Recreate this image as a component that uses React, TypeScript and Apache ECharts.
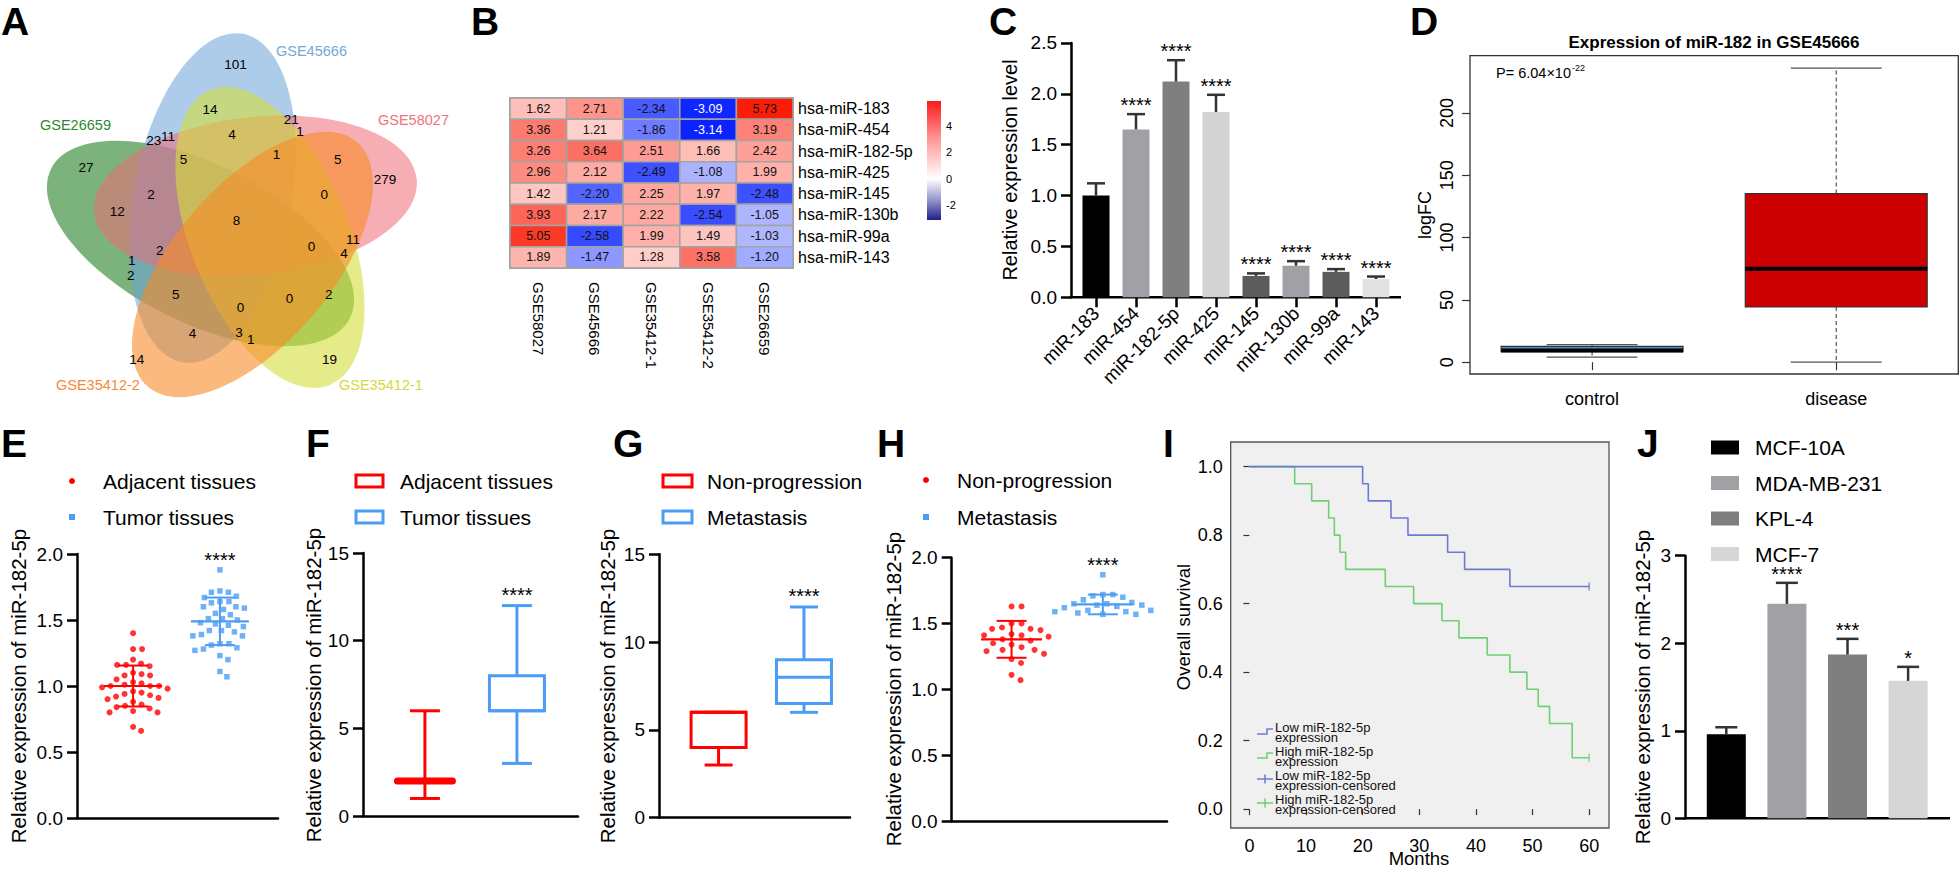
import React, { useEffect, useRef } from "react";
import * as echarts from "echarts";

const FONT = "'Liberation Sans', Arial, Helvetica, sans-serif";
const W = 1960;
const H = 869;

/* ===================== DATA ===================== */
// A – Venn
const vennSets = ["GSE45666", "GSE58027", "GSE35412-1", "GSE35412-2", "GSE26659"];
const vennLabelColors = ["#74a9d8", "#f0737c", "#d3da3a", "#f58a36", "#2c8a2c"];
const vennCounts = [101, 14, 21, 1, 23, 11, 4, 27, 5, 1, 5, 279, 2, 0, 12, 8, 11, 0, 4, 2, 1, 2, 5, 0, 2, 0, 4, 3, 1, 14, 19];

// B – heatmap
const heatCols = ["GSE58027", "GSE45666", "GSE35412-1", "GSE35412-2", "GSE26659"];
const heatRows = ["hsa-miR-183", "hsa-miR-454", "hsa-miR-182-5p", "hsa-miR-425", "hsa-miR-145", "hsa-miR-130b", "hsa-miR-99a", "hsa-miR-143"];
const heatVals = [
  [1.62, 2.71, -2.34, -3.09, 5.73],
  [3.36, 1.21, -1.86, -3.14, 3.19],
  [3.26, 3.64, 2.51, 1.66, 2.42],
  [2.96, 2.12, -2.49, -1.08, 1.99],
  [1.42, -2.2, 2.25, 1.97, -2.48],
  [3.93, 2.17, 2.22, -2.54, -1.05],
  [5.05, -2.58, 1.99, 1.49, -1.03],
  [1.89, -1.47, 1.28, 3.58, -1.2],
];
const heatLegendTicks = [4, 2, 0, -2];

// C – bars
const cCats = ["miR-183", "miR-454", "miR-182-5p", "miR-425", "miR-145", "miR-130b", "miR-99a", "miR-143"];
const cMeans = [1.0, 1.65, 2.12, 1.82, 0.21, 0.31, 0.25, 0.18];
const cErr = [0.12, 0.15, 0.21, 0.17, 0.025, 0.045, 0.027, 0.024];
const cStars = ["", "****", "****", "****", "****", "****", "****", "****"];
const cColors = ["#000000", "#a0a0a6", "#7f7f7f", "#d3d3d3", "#5c5c5c", "#a0a0a6", "#5c5c5c", "#e2e2e2"];

// D – R boxplot
const dGroups = ["control", "disease"];
const dBoxes = [
  [4, 8.5, 9.4, 12.6, 14],
  [0, 44.3, 75, 135.3, 236],
];
const dColors = ["#3f8fd8", "#cc0000"];
const dTicks = [0, 50, 100, 150, 200];

// E – scatter
const eGroups = ["Adjacent tissues", "Tumor tissues"];
const eAdjacent = [1.40, 1.28, 1.28, 1.20, 1.17, 1.16, 1.16, 1.15, 1.10, 1.09, 1.08, 1.08, 1.05, 1.03, 1.02, 1.01, 1.00, 1.00, 1.00, 0.99, 0.98, 0.96, 0.95, 0.94, 0.93, 0.92, 0.91, 0.90, 0.88, 0.86, 0.85, 0.84, 0.83, 0.81, 0.80, 0.80, 0.69, 0.66];
const eTumor = [1.88, 1.72, 1.71, 1.71, 1.68, 1.67, 1.64, 1.64, 1.63, 1.60, 1.60, 1.59, 1.58, 1.55, 1.54, 1.51, 1.51, 1.50, 1.48, 1.47, 1.46, 1.45, 1.42, 1.42, 1.41, 1.39, 1.38, 1.38, 1.32, 1.32, 1.31, 1.29, 1.28, 1.27, 1.23, 1.20, 1.11, 1.07];
const eMean = [1.0, 1.49];
const eSD = [0.155, 0.18];
const eStars = ["", "****"];

// F – box
const fGroups = ["Adjacent tissues", "Tumor tissues"];
const fBoxes = [
  [1, 2, 2, 2, 6],
  [3, 6, 6, 8, 12],
];
const fStars = ["", "****"];

// G – box
const gGroups = ["Non-progression", "Metastasis"];
const gBoxes = [
  [3, 4, 6, 6, 6],
  [6, 6.5, 8, 9, 12],
];
const gStars = ["", "****"];

// H – scatter
const hGroups = ["Non-progression", "Metastasis"];
const hNonProg = [1.63, 1.63, 1.50, 1.50, 1.47, 1.46, 1.46, 1.45, 1.42, 1.41, 1.41, 1.40, 1.38, 1.37, 1.35, 1.34, 1.32, 1.30, 1.30, 1.29, 1.27, 1.23, 1.20, 1.11, 1.07];
const hMetastasis = [1.87, 1.72, 1.72, 1.71, 1.70, 1.68, 1.66, 1.65, 1.65, 1.64, 1.64, 1.63, 1.62, 1.60, 1.60, 1.59, 1.59, 1.58, 1.57, 1.57];
const hMean = [1.38, 1.645];
const hSD = [0.14, 0.075];
const hStars = ["", "****"];

// I – Kaplan-Meier
const kmLowT = [0, 20, 21, 25, 28, 35, 38, 46, 60];
const kmLowS = [1, 0.95, 0.9, 0.85, 0.8, 0.75, 0.7, 0.65, 0.65];
const kmHighT = [0, 8, 11, 14, 15, 16, 17, 24, 29, 34, 37, 42, 46, 49, 51, 53, 57, 60];
const kmHighS = [1, 0.95, 0.9, 0.85, 0.8, 0.75, 0.7, 0.65, 0.6, 0.55, 0.5, 0.45, 0.4, 0.35, 0.3, 0.25, 0.15, 0.15];
const kmLegend = [
  "Low miR-182-5p\nexpression",
  "High miR-182-5p\nexpression",
  "Low miR-182-5p\nexpression-censored",
  "High miR-182-5p\nexpression-censored",
];
const iXTicks = [0, 10, 20, 30, 40, 50, 60];
const iYTicks = [0, 0.2, 0.4, 0.6, 0.8, 1.0];

// J – bars
const jCats = ["MCF-10A", "MDA-MB-231", "KPL-4", "MCF-7"];
const jMeans = [0.96, 2.45, 1.87, 1.57];
const jErr = [0.08, 0.24, 0.18, 0.16];
const jStars = ["", "****", "***", "*"];
const jColors = ["#000000", "#a0a0a5", "#7f7f7f", "#d6d6d6"];

/* ===================== LAYOUT / STYLE ===================== */
const VENN_ELL = [
  { cx: 212.5, cy: 198, a: 167, b: 79, angle: -79.5, fill: "rgba(105,163,216,0.55)" }, // blue
  { cx: 255.5, cy: 196, a: 162, b: 79, angle: -6.0, fill: "rgba(238,105,118,0.55)" }, // pink
  { cx: 270, cy: 237.5, a: 159, b: 79, angle: 67.9, fill: "rgba(214,221,58,0.6)" }, // yellow
  { cx: 252.5, cy: 264.5, a: 161, b: 79, angle: 130.5, fill: "rgba(249,138,38,0.6)" }, // orange
  { cx: 200.5, cy: 243.5, a: 167, b: 79, angle: 26.5, fill: "rgba(36,128,36,0.6)" }, // green
];
const VENN_DRAW_ORDER = [4, 0, 1, 2, 3];
const VENN_LABEL_POS = [[276, 51], [378, 120], [339, 385], [56, 385], [40, 125]];
const VENN_COUNT_POS = [
  [235.5, 64.2], [210.1, 109.8], [291.2, 119.9], [300, 131.8], [153.7, 140.2], [167.9, 136.8], [232.1, 134.1],
  [86.1, 167.9], [183.4, 159.5], [276.4, 154.4], [337.8, 159.5], [385.1, 179.1], [151, 194.9], [324.3, 194.9],
  [117.2, 211.8], [236.5, 220.6], [353, 239.9], [311.5, 246.6], [343.9, 253.4], [159.8, 250.7], [131.8, 260.1],
  [130.7, 275.3], [175.7, 294.6], [289.5, 298.3], [328.7, 294.6], [240.5, 307.4], [192.6, 333.8], [238.9, 332.1],
  [250.7, 339.5], [136.8, 359.8], [329.4, 359.8],
];
const LETTERS: [string, number, number][] = [
  ["A", 1, 21], ["B", 471, 21], ["C", 989, 21], ["D", 1410, 21],
  ["E", 1, 443.5], ["F", 306, 443.5], ["G", 613, 443.5], ["H", 877, 443.5], ["I", 1163, 443.5], ["J", 1637, 443.5],
];

/* ===================== HELPERS ===================== */
function txt(x: number, y: number, text: string, o: any = {}) {
  const size = o.size ?? 18;
  const align = o.align ?? "left";
  const valign = o.valign ?? "middle";
  return {
    type: "text",
    x,
    y,
    rotation: o.rotation ?? 0,
    silent: true,
    z: o.z ?? 10,
    style: {
      text,
      fill: o.color ?? "#000",
      fontSize: size,
      fontWeight: o.weight ?? "normal",
      fontFamily: FONT,
      lineHeight: o.lineHeight,
      textAlign: align,
      textVerticalAlign: valign,
      align,
      verticalAlign: valign,
    },
  };
}

function starEl(x: number, y: number, s: string) {
  return {
    type: "text",
    x,
    y,
    style: {
      text: s,
      fill: "#000",
      fontSize: 20,
      fontFamily: FONT,
      textAlign: "center",
      textVerticalAlign: "middle",
      align: "center",
      verticalAlign: "middle",
    },
  };
}

function line(x1: number, y1: number, x2: number, y2: number, stroke: string, lw: number, extra: any = {}) {
  return { type: "line", silent: true, shape: { x1, y1, x2, y2 }, style: { stroke, lineWidth: lw, ...extra } };
}

function gpYAxis(min: number, max: number, interval: number, dec: number, extra: any = {}) {
  return {
    type: "value",
    min,
    max,
    interval,
    axisLine: { show: true, onZero: false, lineStyle: { color: "#000", width: 2.5 } },
    axisTick: { show: true, length: 10, lineStyle: { color: "#000", width: 2.5 } },
    axisLabel: { fontSize: 19, color: "#000", margin: 14, fontFamily: FONT, formatter: (v: number) => v.toFixed(dec) },
    splitLine: { show: false },
    ...extra,
  };
}

const unitX = {
  type: "value",
  min: 0,
  max: 1,
  axisLine: { show: true, lineStyle: { color: "#000", width: 2.5 } },
  axisTick: { show: false },
  axisLabel: { show: false },
  splitLine: { show: false },
};

function swarmOffsets(values: number[], pxPerUnit: number, minDist: number): number[] {
  const order = values.map((_, i) => i).sort((a, b) => values[b] - values[a]);
  const placed: [number, number][] = [];
  const out: number[] = new Array(values.length).fill(0);
  for (const i of order) {
    const y = values[i] * pxPerUnit;
    let chosen = 0;
    for (let k = 0; k < 400; k++) {
      const step = Math.ceil(k / 2) * 0.5;
      const cand = k % 2 === 1 ? step : -step;
      let ok = true;
      for (const [px, py] of placed) {
        if ((px - cand) ** 2 + (py - y) ** 2 < minDist * minDist) {
          ok = false;
          break;
        }
      }
      if (ok) {
        chosen = cand;
        break;
      }
    }
    placed.push([chosen, y]);
    out[i] = chosen;
  }
  return out;
}

function meanSdSeries(centers: number[], means: number[], sds: number[], colors: string[], stars: string[], maxVals: number[], meanW: number, capW: number) {
  return {
    type: "custom",
    z: 5,
    data: means.map((m, i) => [centers[i], m, sds[i], i, maxVals[i]]),
    renderItem: (_p: any, api: any) => {
      const x = api.value(0), m = api.value(1), s = api.value(2), g = api.value(3), mx = api.value(4);
      const pm = api.coord([x, m]), pt = api.coord([x, m + s]), pb = api.coord([x, m - s]);
      const col = colors[g];
      const ch: any[] = [
        line(pm[0] - meanW / 2, pm[1], pm[0] + meanW / 2, pm[1], col, 2.2),
        line(pt[0], pt[1], pb[0], pb[1], col, 2),
        line(pt[0] - capW / 2, pt[1], pt[0] + capW / 2, pt[1], col, 2),
        line(pb[0] - capW / 2, pb[1], pb[0] + capW / 2, pb[1], col, 2),
      ];
      if (stars[g]) {
        const pMax = api.coord([x, mx]);
        ch.push(starEl(pMax[0], pMax[1] - 10, stars[g]));
      }
      return { type: "group", children: ch };
    },
  };
}

function gpBoxSeries(centers: number[], boxes: number[][], colors: string[], stars: string[], boxW: number, capW: number) {
  return {
    type: "custom",
    data: boxes.map((b, i) => [centers[i], ...b, i]),
    renderItem: (_p: any, api: any) => {
      const x = api.value(0);
      const v = [1, 2, 3, 4, 5].map((k) => api.value(k));
      const g = api.value(6);
      const p = v.map((val) => api.coord([x, val]));
      const cx = p[0][0];
      const col = colors[g];
      const lw = 3;
      const collapsed = Math.abs(p[1][1] - p[3][1]) < 1;
      const ch: any[] = [
        { type: "rect", shape: { x: cx - boxW / 2, y: p[3][1], width: boxW, height: p[1][1] - p[3][1] }, style: { stroke: col, lineWidth: lw, fill: "none" } },
        line(cx - boxW / 2, p[2][1], cx + boxW / 2, p[2][1], col, collapsed ? 7 : lw, collapsed ? { lineCap: "round" } : {}),
        line(cx, p[3][1], cx, p[4][1], col, lw),
        line(cx - capW / 2, p[4][1], cx + capW / 2, p[4][1], col, lw),
        line(cx, p[1][1], cx, p[0][1], col, lw),
        line(cx - capW / 2, p[0][1], cx + capW / 2, p[0][1], col, lw),
      ];
      if (stars[g]) ch.push(starEl(cx, p[4][1] - 11, stars[g]));
      return { type: "group", children: ch };
    },
  };
}

function errSeries(means: number[], errs: number[], stars: string[], capW: number) {
  return {
    type: "custom",
    z: 5,
    data: means.map((m, i) => [i, m, errs[i]]),
    renderItem: (_p: any, api: any) => {
      const i = api.value(0), m = api.value(1), e = api.value(2);
      const pm = api.coord([i, m]);
      const pt = api.coord([i, m + e]);
      const ch: any[] = [
        line(pm[0], pm[1], pt[0], pt[1], "#333", 2.5),
        line(pt[0] - capW / 2, pt[1], pt[0] + capW / 2, pt[1], "#333", 2.5),
      ];
      if (stars[i]) ch.push(starEl(pt[0], pt[1] - 9, stars[i]));
      return { type: "group", children: ch };
    },
  };
}

/* ===================== PANEL OPTIONS ===================== */
const optLetters = {
  animation: false,
  graphic: LETTERS.map(([t, x, y]) => txt(x, y, t, { size: 39, weight: "bold" })),
};

// A
const optA = {
  animation: false,
  graphic: [
    ...VENN_DRAW_ORDER.map((k) => {
      const e = VENN_ELL[k];
      return {
        type: "ellipse",
        x: e.cx,
        y: e.cy,
        rotation: (-e.angle * Math.PI) / 180,
        silent: true,
        shape: { cx: 0, cy: 0, rx: e.a, ry: e.b },
        style: { fill: e.fill },
      };
    }),
    ...vennCounts.map((c, i) => txt(VENN_COUNT_POS[i][0], VENN_COUNT_POS[i][1], String(c), { size: 13.5, align: "center" })),
    ...vennSets.map((s, i) => txt(VENN_LABEL_POS[i][0], VENN_LABEL_POS[i][1], s, { size: 14.5, color: vennLabelColors[i] })),
  ],
};

// B
const heatFlat = heatVals.flat();
const heatMax = Math.max(...heatFlat);
const heatMin = Math.min(...heatFlat);
function mixRGB(a: number[], b: number[], t: number) {
  const tt = Math.max(0, Math.min(1, t));
  return `rgb(${a.map((x, i) => Math.round(x + (b[i] - x) * tt)).join(",")})`;
}
function heatColor(v: number) {
  return v >= 0 ? mixRGB([255, 255, 255], [250, 30, 10], v / heatMax) : mixRGB([255, 255, 255], [10, 35, 255], v / heatMin);
}
const heatData: number[][] = [];
heatVals.forEach((row, r) => row.forEach((v, c) => heatData.push([c, r, v])));
const CB = { x: 927, y: 101, w: 14, h: 119, vTop: 5.85, vBot: -3.1 };
const cbY = (v: number) => CB.y + ((CB.vTop - v) / (CB.vTop - CB.vBot)) * CB.h;
const optB = {
  animation: false,
  grid: { left: 510, top: 98, width: 283, height: 170, show: true, borderColor: "#a0a0a0", borderWidth: 2 },
  xAxis: {
    type: "category",
    data: heatCols,
    axisLine: { show: false },
    axisTick: { show: false },
    axisLabel: { rotate: -90, fontSize: 15, margin: 14, color: "#000", fontFamily: FONT, interval: 0 },
    splitLine: { show: false },
  },
  yAxis: {
    type: "category",
    data: heatRows,
    inverse: true,
    position: "right",
    axisLine: { show: false },
    axisTick: { show: false },
    axisLabel: { fontSize: 16, margin: 5, color: "#000", fontFamily: FONT, interval: 0 },
    splitLine: { show: false },
  },
  series: [
    {
      type: "custom",
      data: heatData,
      renderItem: (_p: any, api: any) => {
        const c = api.value(0), r = api.value(1), v = api.value(2);
        const p = api.coord([c, r]);
        const s = api.size([1, 1]);
        return {
          type: "group",
          children: [
            { type: "rect", shape: { x: p[0] - s[0] / 2, y: p[1] - s[1] / 2, width: s[0], height: s[1] }, style: { fill: heatColor(v), stroke: "#a3a3a3", lineWidth: 1.5 } },
            {
              type: "text",
              x: p[0],
              y: p[1],
              style: {
                text: v.toFixed(2),
                fill: v < -2.8 ? "#fff" : "#111",
                fontSize: 12.5,
                fontFamily: FONT,
                textAlign: "center",
                textVerticalAlign: "middle",
                align: "center",
                verticalAlign: "middle",
              },
            },
          ],
        };
      },
    },
  ],
  graphic: [
    {
      type: "rect",
      silent: true,
      shape: { x: CB.x, y: CB.y, width: CB.w, height: CB.h },
      style: {
        fill: new echarts.graphic.LinearGradient(0, 0, 0, 1, [
          { offset: 0, color: "#ff1a1a" },
          { offset: 0.33, color: "#ff9a9a" },
          { offset: (CB.vTop - 0) / (CB.vTop - CB.vBot), color: "#ffffff" },
          { offset: 0.85, color: "#8a8ac6" },
          { offset: 1, color: "#1f1f8a" },
        ]),
      },
    },
    ...heatLegendTicks.map((t) => txt(CB.x + CB.w + 5, cbY(t), String(t), { size: 11 })),
  ],
};

// C
const optC = {
  animation: false,
  grid: { left: 1076, top: 42.9, width: 320, height: 254.4 },
  xAxis: {
    type: "category",
    data: cCats,
    axisLine: { show: false },
    axisTick: { show: true, alignWithLabel: true, interval: 0, length: 10, lineStyle: { color: "#000", width: 2.5 } },
    axisLabel: { rotate: 45, fontSize: 19, margin: 13, color: "#000", fontFamily: FONT, interval: 0 },
    splitLine: { show: false },
  },
  yAxis: gpYAxis(0, 2.5, 0.5, 1, { offset: 5 }),
  series: [
    { type: "bar", barWidth: 27, data: cMeans.map((v, i) => ({ value: v, itemStyle: { color: cColors[i] } })) },
    errSeries(cMeans, cErr, cStars, 18),
  ],
  graphic: [
    line(1069.75, 297.3, 1401, 297.3, "#000", 2.5),
    txt(1010, 170, "Relative expression level", { size: 20, align: "center", rotation: Math.PI / 2 }),
  ],
};

// D
const optD = {
  animation: false,
  grid: { left: 1470, top: 55.7, width: 488.3, height: 318.3, show: true, borderColor: "#333", borderWidth: 1.3 },
  xAxis: {
    type: "category",
    data: dGroups,
    axisLine: { show: false },
    axisTick: { show: true, alignWithLabel: true, length: 8, lineStyle: { color: "#333", width: 1.2 } },
    axisLabel: { fontSize: 18, margin: 16, color: "#000", fontFamily: FONT },
    splitLine: { show: false },
  },
  yAxis: {
    type: "value",
    min: -9.5,
    max: 246,
    axisLine: { show: false },
    axisTick: { show: true, length: 8, customValues: dTicks, lineStyle: { color: "#333", width: 1.2 } },
    axisLabel: { rotate: 90, fontSize: 18, margin: 14, color: "#000", fontFamily: FONT, customValues: dTicks },
    splitLine: { show: false },
  },
  series: [
    {
      type: "custom",
      data: dBoxes.map((b, i) => [i, ...b]),
      renderItem: (_p: any, api: any) => {
        const i = api.value(0);
        const p = [1, 2, 3, 4, 5].map((k) => api.coord([i, api.value(k)]));
        const bw = api.size([1, 0])[0] * 0.745;
        const cx = p[0][0];
        const cap = bw / 2;
        return {
          type: "group",
          children: [
            line(cx, p[3][1], cx, p[4][1], "#555", 1.2, { lineDash: [4, 3] }),
            line(cx, p[1][1], cx, p[0][1], "#555", 1.2, { lineDash: [4, 3] }),
            line(cx - cap / 2, p[4][1], cx + cap / 2, p[4][1], "#555", 1.3),
            line(cx - cap / 2, p[0][1], cx + cap / 2, p[0][1], "#555", 1.3),
            { type: "rect", shape: { x: cx - bw / 2, y: p[3][1], width: bw, height: p[1][1] - p[3][1] }, style: { fill: dColors[i], stroke: "#333", lineWidth: 1.2 } },
            line(cx - bw / 2, p[2][1], cx + bw / 2, p[2][1], "#000", 4),
          ],
        };
      },
    },
  ],
  graphic: [
    txt(1714, 42, "Expression of miR-182 in GSE45666", { size: 17, weight: "bold", align: "center" }),
    txt(1496, 72.5, "P= 6.04×10", { size: 14.5 }),
    txt(1572, 67.5, "-22", { size: 9 }),
    txt(1425, 215, "logFC", { size: 18, align: "center", rotation: Math.PI / 2 }),
  ],
};

// E
const E_GRID = { left: 77, top: 554, width: 201, height: 264 };
const eCenters = [0.279, 0.711];
const eOffA = swarmOffsets(eAdjacent, E_GRID.height / 2, 8.6);
const eOffT = swarmOffsets(eTumor, E_GRID.height / 2, 8.6);
const optE = {
  animation: false,
  grid: E_GRID,
  xAxis: unitX,
  yAxis: gpYAxis(0, 2, 0.5, 1),
  series: [
    { type: "scatter", symbol: "circle", symbolSize: 6, itemStyle: { color: "#ff0000" }, data: eAdjacent.map((v, i) => [eCenters[0] + eOffA[i] / E_GRID.width, v]) },
    { type: "scatter", symbol: "rect", symbolSize: 5.5, itemStyle: { color: "#4b9cf5" }, data: eTumor.map((v, i) => [eCenters[1] + eOffT[i] / E_GRID.width, v]) },
    meanSdSeries(eCenters, eMean, eSD, ["#ff0000", "#4b9cf5"], eStars, [Math.max(...eAdjacent), Math.max(...eTumor)], 58, 30),
  ],
  graphic: [
    txt(18, 686, "Relative expression of miR-182-5p", { size: 20.5, align: "center", rotation: Math.PI / 2 }),
    { type: "circle", silent: true, shape: { cx: 72, cy: 481, r: 3 }, style: { fill: "#ff0000" } },
    txt(103, 481, eGroups[0], { size: 21 }),
    { type: "rect", silent: true, shape: { x: 69, y: 514, width: 6, height: 6 }, style: { fill: "#4b9cf5" } },
    txt(103, 517, eGroups[1], { size: 21 }),
  ],
};

// F
const F_GRID = { left: 363, top: 553, width: 215, height: 263 };
const optF = {
  animation: false,
  grid: F_GRID,
  xAxis: unitX,
  yAxis: gpYAxis(0, 15, 5, 0),
  series: [gpBoxSeries([0.288, 0.716], fBoxes, ["#ff0000", "#4b9cf5"], fStars, 55, 30)],
  graphic: [
    txt(313, 685, "Relative expression of miR-182-5p", { size: 20.5, align: "center", rotation: Math.PI / 2 }),
    { type: "rect", silent: true, shape: { x: 356, y: 475, width: 27, height: 12 }, style: { fill: "none", stroke: "#ff0000", lineWidth: 3 } },
    txt(400, 481, fGroups[0], { size: 21 }),
    { type: "rect", silent: true, shape: { x: 356, y: 511, width: 27, height: 12 }, style: { fill: "none", stroke: "#4b9cf5", lineWidth: 3 } },
    txt(400, 517, fGroups[1], { size: 21 }),
  ],
};

// G
const G_GRID = { left: 659, top: 554.3, width: 191, height: 263.4 };
const optG = {
  animation: false,
  grid: G_GRID,
  xAxis: unitX,
  yAxis: gpYAxis(0, 15, 5, 0),
  series: [gpBoxSeries([0.312, 0.759], gBoxes, ["#ff0000", "#4b9cf5"], gStars, 55, 28)],
  graphic: [
    txt(607, 686, "Relative expression of miR-182-5p", { size: 20.5, align: "center", rotation: Math.PI / 2 }),
    { type: "rect", silent: true, shape: { x: 663, y: 475, width: 29, height: 12 }, style: { fill: "none", stroke: "#ff0000", lineWidth: 3 } },
    txt(707, 481, gGroups[0], { size: 21 }),
    { type: "rect", silent: true, shape: { x: 663, y: 511, width: 29, height: 12 }, style: { fill: "none", stroke: "#4b9cf5", lineWidth: 3 } },
    txt(707, 517, gGroups[1], { size: 21 }),
  ],
};

// H
const H_GRID = { left: 951.7, top: 557.7, width: 215.3, height: 263.3 };
const hCenters = [0.278, 0.702];
const hOffA = swarmOffsets(hNonProg, H_GRID.height / 2, 10);
const hOffB = swarmOffsets(hMetastasis, H_GRID.height / 2, 10);
const optH = {
  animation: false,
  grid: H_GRID,
  xAxis: unitX,
  yAxis: gpYAxis(0, 2, 0.5, 1),
  series: [
    { type: "scatter", symbol: "circle", symbolSize: 6, itemStyle: { color: "#ff0000" }, data: hNonProg.map((v, i) => [hCenters[0] + hOffA[i] / H_GRID.width, v]) },
    { type: "scatter", symbol: "rect", symbolSize: 5.5, itemStyle: { color: "#4b9cf5" }, data: hMetastasis.map((v, i) => [hCenters[1] + hOffB[i] / H_GRID.width, v]) },
    meanSdSeries(hCenters, hMean, hSD, ["#ff0000", "#4b9cf5"], hStars, [Math.max(...hNonProg), Math.max(...hMetastasis)], 61, 30),
  ],
  graphic: [
    txt(893, 689, "Relative expression of miR-182-5p", { size: 20.5, align: "center", rotation: Math.PI / 2 }),
    { type: "circle", silent: true, shape: { cx: 926, cy: 480, r: 3 }, style: { fill: "#ff0000" } },
    txt(957, 480, hGroups[0], { size: 21 }),
    { type: "rect", silent: true, shape: { x: 923, y: 514, width: 6, height: 6 }, style: { fill: "#4b9cf5" } },
    txt(957, 517, hGroups[1], { size: 21 }),
  ],
};

// I
const KM_LOW = "#6b7bd0";
const KM_HIGH = "#6fcf72";
const I_GRID = { left: 1230.7, top: 442, width: 378.3, height: 386 };
const legY = [722, 746, 770, 794];
const optI = {
  animation: false,
  grid: { ...I_GRID, show: true, backgroundColor: "#f0f0f0", borderColor: "#555", borderWidth: 1.3 },
  xAxis: {
    type: "value",
    min: -3.3,
    max: 63.5,
    axisLine: { show: false },
    axisTick: { show: true, length: 6, customValues: iXTicks, lineStyle: { color: "#333", width: 1.2 } },
    axisLabel: { fontSize: 18, margin: 9, color: "#000", fontFamily: FONT, customValues: iXTicks },
    splitLine: { show: false },
  },
  yAxis: {
    type: "value",
    min: -0.055,
    max: 1.072,
    axisLine: { show: false },
    axisTick: { show: true, length: 6, customValues: iYTicks, lineStyle: { color: "#333", width: 1.2 } },
    axisLabel: { fontSize: 18, margin: 8, color: "#000", fontFamily: FONT, customValues: iYTicks, formatter: (v: number) => v.toFixed(1) },
    splitLine: { show: false },
  },
  series: [
    { type: "line", step: "end", symbol: "none", lineStyle: { color: KM_HIGH, width: 1.6 }, data: kmHighT.map((t, i) => [t, kmHighS[i]]) },
    { type: "line", step: "end", symbol: "none", lineStyle: { color: KM_LOW, width: 1.6 }, data: kmLowT.map((t, i) => [t, kmLowS[i]]) },
    { type: "scatter", symbol: "rect", symbolSize: [1.5, 8], itemStyle: { color: KM_LOW }, data: [[kmLowT[kmLowT.length - 1], kmLowS[kmLowS.length - 1]]] },
    { type: "scatter", symbol: "rect", symbolSize: [1.5, 8], itemStyle: { color: KM_HIGH }, data: [[kmHighT[kmHighT.length - 1], kmHighS[kmHighS.length - 1]]] },
  ],
  graphic: [
    txt(1419, 858.5, "Months", { size: 18.5, align: "center" }),
    txt(1183, 627, "Overall survival", { size: 18.5, align: "center", rotation: Math.PI / 2 }),
    { type: "polyline", silent: true, shape: { points: [[1257, legY[0] + 12], [1267, legY[0] + 12], [1267, legY[0] + 7], [1273, legY[0] + 7]] }, style: { stroke: KM_LOW, lineWidth: 1.5, fill: "none" } },
    { type: "polyline", silent: true, shape: { points: [[1257, legY[1] + 12], [1267, legY[1] + 12], [1267, legY[1] + 7], [1273, legY[1] + 7]] }, style: { stroke: KM_HIGH, lineWidth: 1.5, fill: "none" } },
    line(1257, legY[2] + 9, 1273, legY[2] + 9, KM_LOW, 1.5),
    line(1265, legY[2] + 4.5, 1265, legY[2] + 13.5, KM_LOW, 1.5),
    line(1257, legY[3] + 9, 1273, legY[3] + 9, KM_HIGH, 1.5),
    line(1265, legY[3] + 4.5, 1265, legY[3] + 13.5, KM_HIGH, 1.5),
    ...kmLegend.map((s, k) => txt(1275, legY[k], s, { size: 13, valign: "top", lineHeight: 10.5, color: "#111" })),
  ],
};

// J
const J_GRID = { left: 1696, top: 555.7, width: 242.4, height: 262.6 };
const jLegY = [447.5, 483, 518.5, 554];
const optJ = {
  animation: false,
  grid: J_GRID,
  xAxis: {
    type: "category",
    data: jCats,
    axisLine: { show: false },
    axisTick: { show: false },
    axisLabel: { show: false },
    splitLine: { show: false },
  },
  yAxis: gpYAxis(0, 3, 1, 0, { offset: 11 }),
  series: [
    { type: "bar", barWidth: 39, data: jMeans.map((v, i) => ({ value: v, itemStyle: { color: jColors[i] } })) },
    errSeries(jMeans, jErr, jStars, 22),
  ],
  graphic: [
    line(1683.75, 818.3, 1950, 818.3, "#000", 2.5),
    txt(1642, 687, "Relative expression of miR-182-5p", { size: 20.5, align: "center", rotation: Math.PI / 2 }),
    ...jCats.flatMap((c, i) => [
      { type: "rect", silent: true, shape: { x: 1711, y: jLegY[i] - 7, width: 28, height: 14 }, style: { fill: jColors[i] } },
      txt(1755, jLegY[i], c, { size: 21 }),
    ]),
  ],
};

const OPTIONS = [optA, optB, optC, optD, optE, optF, optG, optH, optI, optJ, optLetters];

/* ===================== COMPONENTS ===================== */
function Panel({ option }: { option: any }) {
  const ref = useRef<HTMLDivElement | null>(null);
  useEffect(() => {
    if (!ref.current) return;
    const chart = echarts.init(ref.current, undefined, { renderer: "svg", width: W, height: H });
    chart.setOption({ animation: false, ...option });
    return () => chart.dispose();
  }, [option]);
  return <div ref={ref} style={{ position: "absolute", left: 0, top: 0, width: W, height: H }} />;
}

export default function App() {
  return (
    <div style={{ position: "fixed", left: 0, top: 0, width: W, height: H, background: "#fff", overflow: "hidden", fontFamily: FONT }}>
      {OPTIONS.map((o, i) => (
        <Panel key={i} option={o} />
      ))}
    </div>
  );
}
